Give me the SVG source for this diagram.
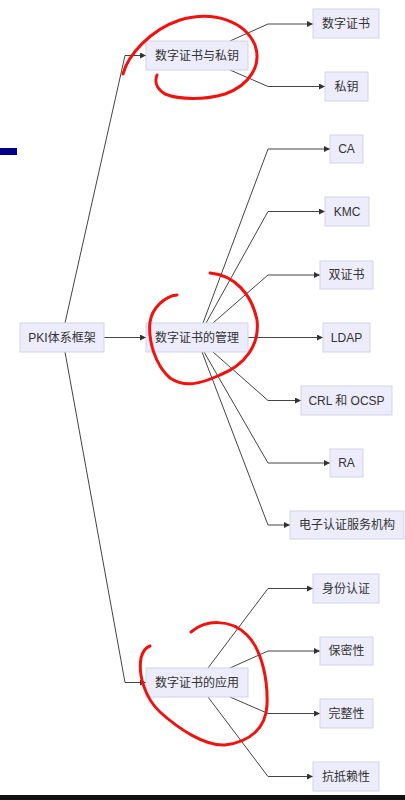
<svg xmlns="http://www.w3.org/2000/svg" width="405" height="800" viewBox="0 0 405 800">
<defs>
<marker id="arr" viewBox="0 0 6 6" refX="6" refY="3" markerWidth="6" markerHeight="6" markerUnits="userSpaceOnUse" orient="auto">
<path d="M0,0 L6,3 L0,6 z" fill="#333"/>
</marker>
<style>
.node rect{fill:#ECECFA;stroke:#D4D4EA;stroke-width:1}
.node text{font-family:"Liberation Sans","Noto Sans CJK SC",sans-serif;font-size:12px;fill:#333;text-anchor:middle;dominant-baseline:central}
.edges path{fill:none;stroke:#444;stroke-width:1;marker-end:url(#arr)}
.ink{fill:none;stroke:#F0120F;stroke-width:3;stroke-linecap:round;stroke-linejoin:round}
</style>
</defs>
<rect width="405" height="800" fill="#fff"/>
<rect x="0" y="148" width="17" height="7" fill="#00008B"/>
<g class="edges">
<path d="M65,323 L125,55.5 L146,55.5"/>
<path d="M104,337.5 L146,337.5"/>
<path d="M65,352 L125,682.5 L146,682.5"/>
<path d="M230,41 L268,24 L313,24"/>
<path d="M230,70 L268,86.5 L325,86.5"/>
<path d="M203,323 L268,149 L330,149"/>
<path d="M206,323 L268,211.5 L325,211.5"/>
<path d="M213,323 L268,275 L320,275"/>
<path d="M248,337.5 L323,337.5"/>
<path d="M213,352 L268,400.5 L301,400.5"/>
<path d="M204,352 L268,463 L330,463"/>
<path d="M202,352 L268,525 L290,525"/>
<path d="M208,668 L268,588.5 L313,588.5"/>
<path d="M230,668 L268,651 L320,651"/>
<path d="M230,697 L268,713.5 L320,713.5"/>
<path d="M208,697 L268,776.5 L313,776.5"/>
</g>
<g id="root" class="node"><rect x="20" y="323" width="84" height="29"/><text x="62" y="337.5">PKI体系框架</text></g>
<g id="n1" class="node"><rect x="146" y="41" width="102" height="29"/><text x="197" y="55.5">数字证书与私钥</text></g>
<g id="n2" class="node"><rect x="146" y="323" width="102" height="29"/><text x="197" y="337.5">数字证书的管理</text></g>
<g id="n3" class="node"><rect x="146" y="668" width="102" height="29"/><text x="197" y="682.5">数字证书的应用</text></g>
<g id="a1" class="node"><rect x="313" y="9" width="66" height="29"/><text x="346" y="23.5">数字证书</text></g>
<g id="a2" class="node"><rect x="325" y="72" width="43" height="29"/><text x="346.5" y="86.5">私钥</text></g>
<g id="b1" class="node"><rect x="330" y="135" width="33" height="28"/><text x="346.5" y="149">CA</text></g>
<g id="b2" class="node"><rect x="325" y="197" width="44" height="29"/><text x="347" y="211.5">KMC</text></g>
<g id="b3" class="node"><rect x="320" y="261" width="53" height="28"/><text x="346.5" y="275">双证书</text></g>
<g id="b4" class="node"><rect x="323" y="323" width="47" height="29"/><text x="346.5" y="337.5">LDAP</text></g>
<g id="b5" class="node"><rect x="301" y="386" width="91" height="29"/><text x="346.5" y="400.5">CRL 和 OCSP</text></g>
<g id="b6" class="node"><rect x="330" y="449" width="33" height="28"/><text x="346.5" y="463">RA</text></g>
<g id="b7" class="node"><rect x="290" y="511" width="114" height="28"/><text x="347" y="525">电子认证服务机构</text></g>
<g id="c1" class="node"><rect x="313" y="574" width="66" height="29"/><text x="346" y="588.5">身份认证</text></g>
<g id="c2" class="node"><rect x="320" y="637" width="53" height="28"/><text x="346.5" y="651">保密性</text></g>
<g id="c3" class="node"><rect x="320" y="699" width="53" height="29"/><text x="346.5" y="713.5">完整性</text></g>
<g id="c4" class="node"><rect x="313" y="762" width="66" height="29"/><text x="346" y="776.5">抗抵赖性</text></g>
<path class="ink" d="M123,74 C128,55 150,30 180,20 C215,10 245,22 255,45 C262,65 250,85 225,94 C205,100 180,100 165,94 C155,88 155,80 157,75"/>
<path class="ink" d="M210,273 C235,275 252,295 257,320 C260,345 245,365 220,375 C200,384 185,388 170,378 C155,365 148,340 150,322 C152,308 165,296 177,295"/>
<path class="ink" d="M191,632 C205,620 230,618 247,635 C262,650 268,680 267,705 C266,728 250,742 225,745 C205,746 180,730 160,712 C145,698 138,675 141,658 C143,650 147,647 150,646"/>
<rect x="0" y="795" width="405" height="5" fill="#111"/>
</svg>
